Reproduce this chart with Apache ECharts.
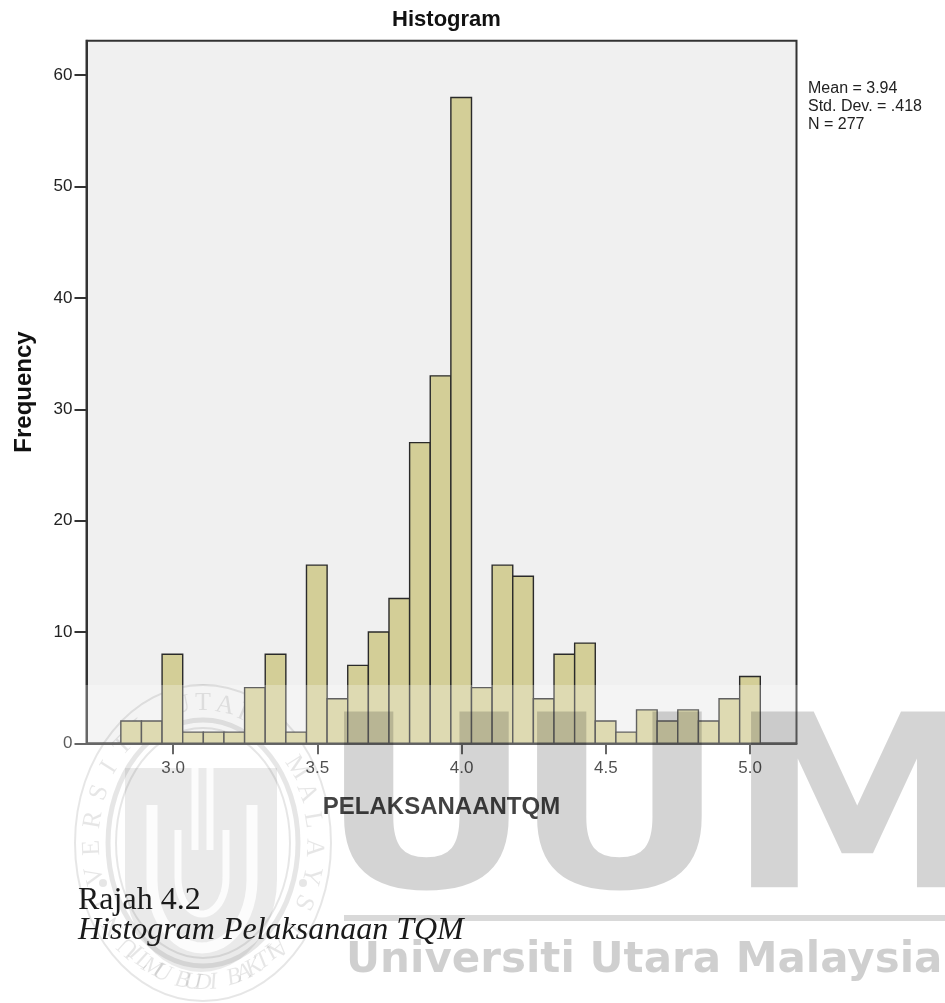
<!DOCTYPE html>
<html>
<head>
<meta charset="utf-8">
<script src="https://cdn.jsdelivr.net/npm/echarts@6/dist/echarts.min.js"></script>
<style>
  html, body { margin: 0; padding: 0; background: #ffffff; }
  #chart { width: 945px; height: 1003px; }
</style>
</head>
<body>
<div id="chart"></div>
<script>
// Histogram of PELAKSANAANTQM scores (N = 277)
const binStart = 2.819;     // lower edge of the first bin
const binWidth = 0.0715;    // width of every bin
const frequencies = [2, 2, 8, 1, 1, 1, 5, 8, 1, 16, 4, 7, 10, 13, 27, 33, 58, 5, 16, 15, 4, 8, 9, 2, 1, 3, 2, 3, 2, 4, 6];
const xTickValues = [3.0, 3.5, 4.0, 4.5, 5.0];
const yTickValues = [0, 10, 20, 30, 40, 50, 60];
const statLines = ['Mean = 3.94', 'Std. Dev. = .418', 'N = 277'];
const captionLines = ['Rajah 4.2', 'Histogram Pelaksanaan TQM'];

const bins = frequencies.map((f, i) => [binStart + i * binWidth, binStart + (i + 1) * binWidth, f]);

const SANS = '"Liberation Sans", Arial, sans-serif';
const SERIF = '"Liberation Serif", "Times New Roman", serif';
const LOGO = '"DejaVu Sans", sans-serif';
const INK = '#333333';

// U-shaped outline: two straight sides joined by a half ellipse
function uShape(x0, x1, yTop, yMid, depth) {
  const pts = [[x0, yTop], [x0, yMid]];
  const cx = (x0 + x1) / 2, rx = (x1 - x0) / 2;
  for (let k = 1; k < 24; k++) {
    const t = Math.PI * k / 24;
    pts.push([cx - rx * Math.cos(t), yMid + depth * Math.sin(t)]);
  }
  pts.push([x1, yMid], [x1, yTop]);
  return pts;
}

// faint university seal in the lower-left corner
function sealElements() {
  const cx = 203, cy = 843;
  const shade = 'rgba(0,0,0,0.13)';
  const white = 'rgba(255,255,255,0.85)';
  const els = [
    { type: 'ellipse', shape: { cx, cy, rx: 128, ry: 158 }, style: { fill: null, stroke: shade, lineWidth: 2 } },
    { type: 'ellipse', shape: { cx, cy, rx: 95, ry: 123 }, style: { fill: null, stroke: shade, lineWidth: 5 } },
    { type: 'ellipse', shape: { cx, cy, rx: 87, ry: 115 }, style: { fill: null, stroke: shade, lineWidth: 2 } },
    { type: 'polygon', shape: { points: uShape(125, 277, 768, 880, 92) }, style: { fill: 'rgba(0,0,0,0.11)' } },
    { type: 'polyline', shape: { points: uShape(152, 252, 805, 880, 68) }, style: { stroke: white, lineWidth: 11, fill: null } },
    { type: 'polyline', shape: { points: uShape(178, 226, 830, 878, 36) }, style: { stroke: white, lineWidth: 7, fill: null } },
    { type: 'line', shape: { x1: 195, y1: 758, x2: 195, y2: 850 }, style: { stroke: white, lineWidth: 7 } },
    { type: 'line', shape: { x1: 210, y1: 758, x2: 210, y2: 850 }, style: { stroke: white, lineWidth: 7 } }
  ];
  const a = 111, b = 140;
  const top = 'UNIVERSITI UTARA MALAYSIA';
  const t0 = -138, t1 = 138;
  for (let i = 0; i < top.length; i++) {
    const th = (t0 + (t1 - t0) * i / (top.length - 1)) * Math.PI / 180;
    els.push({
      type: 'text', x: cx + a * Math.sin(th), y: cy - b * Math.cos(th), rotation: -th,
      style: { text: top[i], font: '26px ' + SERIF, fill: shade, align: 'center', verticalAlign: 'middle' }
    });
  }
  const bottom = 'ILMU BUDI BAKTI';
  const s0 = 218, s1 = 142;
  for (let i = 0; i < bottom.length; i++) {
    const thDeg = s0 + (s1 - s0) * i / (bottom.length - 1);
    const th = thDeg * Math.PI / 180;
    els.push({
      type: 'text', x: cx + a * Math.sin(th), y: cy - b * Math.cos(th), rotation: (180 - thDeg) * Math.PI / 180,
      style: { text: bottom[i], font: 'italic 24px ' + SERIF, fill: shade, align: 'center', verticalAlign: 'middle' }
    });
  }
  els.push({ type: 'circle', shape: { cx: cx + 100, cy: cy + 40, r: 4 }, style: { fill: shade } });
  els.push({ type: 'circle', shape: { cx: cx - 100, cy: cy + 40, r: 4 }, style: { fill: shade } });
  return els;
}

function logoLetter(ch, x) {
  return {
    type: 'text', z: 102, x: x, y: 704, scaleY: 0.92,
    style: { text: ch, font: 'bold 262px ' + LOGO, fill: 'rgba(0,0,0,0.17)', verticalAlign: 'top' }
  };
}

const chart = echarts.init(document.getElementById('chart'), null, { renderer: 'canvas' });

const option = {
  backgroundColor: '#ffffff',
  animation: false,
  title: {
    text: 'Histogram',
    left: 441.5,
    top: 4,
    textAlign: 'center',
    textStyle: { fontFamily: SANS, fontSize: 22, fontWeight: 'bold', color: '#111' }
  },
  grid: {
    left: 86.5, top: 40.7, width: 710, height: 702.6,
    show: true, backgroundColor: '#f0f0f0', borderColor: INK, borderWidth: 2
  },
  xAxis: {
    type: 'value', min: 2.700, max: 5.161,
    name: 'PELAKSANAANTQM', nameLocation: 'middle', nameGap: 52,
    nameTextStyle: { fontFamily: SANS, fontSize: 24, fontWeight: 'bold', color: '#000' },
    axisLine: { show: true, onZero: false, lineStyle: { color: INK, width: 2 } },
    axisTick: { show: true, inside: false, length: 11, customValues: xTickValues, lineStyle: { color: INK, width: 2 } },
    axisLabel: { customValues: xTickValues, formatter: v => v.toFixed(1), fontFamily: SANS, fontSize: 17, color: '#111', margin: 17 },
    splitLine: { show: false }
  },
  yAxis: {
    type: 'value', min: 0, max: 63.1,
    name: 'Frequency', nameLocation: 'middle', nameGap: 50, nameRotate: 90,
    nameTextStyle: { fontFamily: SANS, fontSize: 24, fontWeight: 'bold', color: '#111' },
    axisLine: { show: true, lineStyle: { color: INK, width: 2 } },
    axisTick: { show: true, inside: false, length: 12, customValues: yTickValues, lineStyle: { color: INK, width: 2 } },
    axisLabel: { customValues: yTickValues, fontFamily: SANS, fontSize: 17, color: '#222', margin: 14 },
    splitLine: { show: false }
  },
  series: [{
    type: 'custom',
    data: bins,
    encode: { x: [0, 1], y: 2 },
    renderItem: function (params, api) {
      const p0 = api.coord([api.value(0), api.value(2)]);
      const p1 = api.coord([api.value(1), 0]);
      return {
        type: 'rect',
        shape: { x: p0[0], y: p0[1], width: p1[0] - p0[0], height: p1[1] - p0[1] },
        style: { fill: '#d3ce97', stroke: '#2a2a2a', lineWidth: 1.4 }
      };
    }
  }],
  graphic: {
    elements: [
      {
        type: 'text', x: 808, y: 80, z: 10,
        style: { text: statLines.join('\n'), font: '16px ' + SANS, lineHeight: 18, fill: '#222' }
      },
      // translucent wash of the watermark band
      { type: 'rect', z: 100, shape: { x: 0, y: 685, width: 945, height: 318 }, style: { fill: 'rgba(255,255,255,0.26)' } },
      { type: 'group', z: 101, children: sealElements() },
      logoLetter('U', 320),
      logoLetter('U', 513),
      logoLetter('M', 727),
      { type: 'rect', z: 102, shape: { x: 344, y: 915, width: 601, height: 6 }, style: { fill: 'rgba(0,0,0,0.15)' } },
      {
        type: 'text', z: 102, x: 346, y: 940,
        style: { text: 'Universiti Utara Malaysia', font: 'bold 42px ' + LOGO, fill: 'rgba(0,0,0,0.19)', verticalAlign: 'top' }
      },
      {
        type: 'text', z: 110, x: 78, y: 885,
        style: { text: captionLines[0], font: '32px ' + SERIF, fill: '#1a1a1a', verticalAlign: 'top' }
      },
      {
        type: 'text', z: 110, x: 78, y: 915,
        style: { text: captionLines[1], font: 'italic 32px ' + SERIF, fill: '#1a1a1a', verticalAlign: 'top' }
      }
    ]
  }
};

chart.setOption(option);
</script>
</body>
</html>
